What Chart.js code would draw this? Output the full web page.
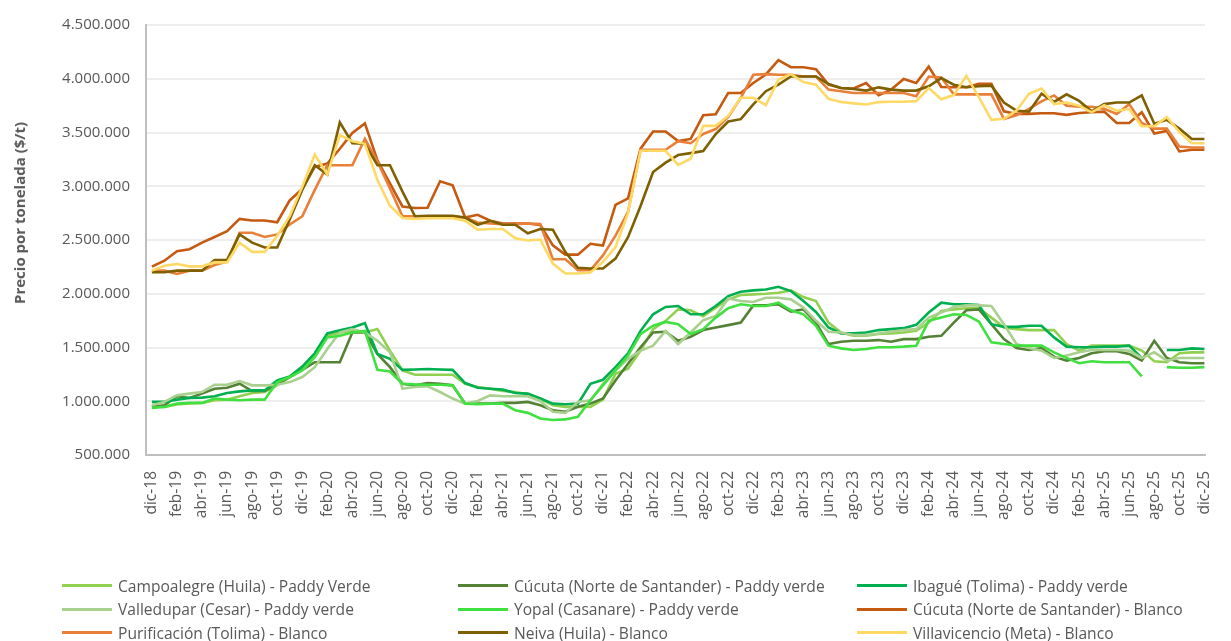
<!DOCTYPE html>
<html>
<head>
<meta charset="utf-8">
<script src="https://cdn.jsdelivr.net/npm/chart.js@4.4.1/dist/chart.umd.min.js"></script>
<style>
  html, body { margin: 0; padding: 0; background: #fff; }
  #wrap { position: relative; width: 1231px; height: 641px; overflow: hidden; font-family: "Open Sans", sans-serif; }
  #chart { position: absolute; left: 0; top: 0; }
  #yTitle {
    position: absolute; left: 19px; top: 213px;
    transform: translate(-50%, -50%) rotate(-90deg);
    font-weight: bold; font-size: 15px; color: #595959; white-space: nowrap;
  }
  #legend {
    position: absolute; left: 62px; top: 574px;
    display: grid; grid-template-columns: 396px 399px 360px; grid-auto-rows: 23.5px;
    font-size: 15.6px; color: #595959;
  }
  .item { display: flex; align-items: center; white-space: nowrap; }
  .swatch { width: 50px; height: 3px; margin-right: 6px; }
</style>
</head>
<body>
<div id="wrap">
  <canvas id="chart" width="1231" height="641"></canvas>
  <div id="yTitle">Precio por tonelada ($/t)</div>
  <div id="legend"></div>
</div>
<script>
// meses dic-18 .. dic-25
const abrev = ["ene", "feb", "mar", "abr", "may", "jun", "jul", "ago", "sep", "oct", "nov", "dic"];
const months = ["dic-18"];
for (let y = 19; y <= 25; y++) {
  abrev.forEach((m) => months.push(m + "-" + y));
}

const seriesNames = [
  "Campoalegre (Huila) - Paddy Verde",
  "Cúcuta (Norte de Santander) - Paddy verde",
  "Ibagué (Tolima) - Paddy verde",
  "Valledupar (Cesar) - Paddy verde",
  "Yopal (Casanare) - Paddy verde",
  "Cúcuta (Norte de Santander) - Blanco",
  "Purificación (Tolima) - Blanco",
  "Neiva (Huila) - Blanco",
  "Villavicencio (Meta) - Blanco"
];

const seriesColors = ["#92D050", "#548235", "#00B050", "#A9D08E", "#40E040", "#C55A11", "#E8803A", "#7F6000", "#FFD966"];

// miles de $/t
const campoalegreVerde = [963, 948, 970, 979, 985, 1009, 1015, 1046, 1077, 1086, 1148, 1225, 1311, 1440, 1609, 1640, 1655, 1640, 1671, 1471, 1286, 1246, 1246, 1246, 1246, 1163, 1132, 1117, 1095, 1086, 1065, 1025, 963, 948, 948, 948, 1015, 1255, 1302, 1471, 1671, 1748, 1855, 1846, 1790, 1871, 1948, 1988, 1994, 2000, 2009, 2031, 1969, 1932, 1732, 1640, 1609, 1609, 1625, 1631, 1640, 1655, 1732, 1840, 1855, 1865, 1865, 1778, 1686, 1671, 1662, 1662, 1662, 1532, 1471, 1517, 1517, 1517, 1517, 1471, 1372, 1363, 1446, 1455, 1455];

const cucutaVerde = [948, 963, 1046, 1031, 1071, 1117, 1126, 1163, 1095, 1095, 1163, 1225, 1292, 1363, 1363, 1363, 1640, 1640, 1440, 1317, 1163, 1148, 1169, 1163, 1148, 978, 978, 978, 985, 985, 994, 963, 917, 902, 948, 978, 1025, 1194, 1348, 1502, 1640, 1646, 1563, 1600, 1662, 1686, 1708, 1732, 1892, 1892, 1902, 1834, 1855, 1732, 1532, 1554, 1563, 1563, 1569, 1554, 1578, 1578, 1600, 1609, 1732, 1846, 1855, 1717, 1578, 1495, 1477, 1495, 1415, 1378, 1403, 1446, 1465, 1465, 1440, 1378, 1563, 1403, 1363, 1354, 1354];

const ibagueVerde = [994, 994, 1015, 1031, 1034, 1046, 1077, 1092, 1101, 1101, 1194, 1231, 1323, 1446, 1631, 1661, 1686, 1726, 1440, 1394, 1292, 1295, 1300, 1295, 1292, 1169, 1126, 1117, 1108, 1077, 1071, 1025, 978, 972, 978, 1163, 1200, 1317, 1446, 1655, 1809, 1877, 1886, 1809, 1809, 1886, 1978, 2018, 2031, 2040, 2065, 2025, 1932, 1831, 1686, 1631, 1631, 1640, 1662, 1671, 1680, 1711, 1825, 1917, 1902, 1902, 1895, 1717, 1692, 1692, 1702, 1702, 1594, 1508, 1502, 1502, 1508, 1508, 1517, 1403, null, 1477, 1477, 1492, 1486];

const valleduparVerde = [963, 994, 1055, 1071, 1086, 1154, 1154, 1188, 1148, 1148, 1154, 1178, 1225, 1317, 1486, 1640, 1671, 1640, 1563, 1455, 1117, 1132, 1140, 1086, 1025, 978, 1003, 1055, 1046, 1046, 1046, 1003, 902, 892, 994, 1009, 1163, 1286, 1394, 1471, 1517, 1655, 1532, 1640, 1754, 1794, 1957, 1932, 1923, 1963, 1963, 1948, 1871, 1748, 1646, 1640, 1615, 1615, 1631, 1646, 1662, 1671, 1778, 1825, 1877, 1892, 1892, 1886, 1717, 1532, 1495, 1471, 1403, 1425, 1455, 1477, 1477, 1477, 1471, 1403, 1455, 1378, 1403, 1403, 1403];

const yopalVerde = [938, 948, 978, 985, 985, 1025, 1015, 1009, 1015, 1015, 1178, 1225, 1286, 1409, 1594, 1609, 1640, 1655, 1292, 1277, 1163, 1157, 1154, 1154, 1148, 978, 972, 978, 978, 917, 892, 840, 825, 831, 855, 1009, 1148, 1286, 1425, 1625, 1702, 1738, 1717, 1625, 1671, 1778, 1865, 1902, 1886, 1886, 1917, 1846, 1809, 1702, 1517, 1492, 1477, 1486, 1502, 1502, 1508, 1517, 1748, 1778, 1809, 1803, 1742, 1548, 1532, 1517, 1517, 1517, 1455, 1403, 1354, 1372, 1363, 1363, 1363, 1231, null, 1317, 1311, 1311, 1317];

const cucutaBlanco = [2252, 2307, 2396, 2414, 2475, 2528, 2583, 2696, 2681, 2681, 2665, 2868, 2975, 3180, 3211, 3349, 3496, 3585, 3241, 3027, 2812, 2797, 2800, 3046, 3009, 2709, 2734, 2679, 2654, 2654, 2654, 2640, 2450, 2364, 2364, 2465, 2449, 2826, 2887, 3350, 3510, 3510, 3420, 3440, 3660, 3670, 3868, 3868, 3960, 4040, 4174, 4107, 4107, 4089, 3945, 3914, 3910, 3960, 3847, 3899, 3997, 3960, 4113, 3923, 3921, 3921, 3952, 3952, 3697, 3673, 3673, 3679, 3679, 3664, 3682, 3688, 3694, 3588, 3588, 3688, 3491, 3515, 3324, 3340, 3340];

const purificacionBlanco = [2215, 2215, 2184, 2215, 2215, 2267, 2298, 2567, 2567, 2528, 2552, 2644, 2721, 2966, 3196, 3196, 3196, 3441, 3230, 2980, 2721, 2721, 2721, 2709, 2709, 2709, 2663, 2654, 2648, 2648, 2654, 2648, 2321, 2321, 2220, 2220, 2357, 2541, 2761, 3340, 3340, 3340, 3420, 3400, 3486, 3532, 3645, 3823, 4037, 4043, 4037, 4037, 4021, 4021, 3899, 3884, 3868, 3868, 3868, 3868, 3868, 3838, 4021, 4012, 3855, 3855, 3855, 3855, 3627, 3660, 3720, 3790, 3845, 3750, 3740, 3740, 3720, 3673, 3764, 3588, 3536, 3536, 3370, 3361, 3361];

const neivaBlanco = [2200, 2200, 2215, 2215, 2215, 2313, 2313, 2552, 2475, 2430, 2430, 2690, 2966, 3196, 3110, 3594, 3400, 3395, 3196, 3196, 2950, 2721, 2725, 2725, 2725, 2709, 2642, 2679, 2642, 2642, 2562, 2602, 2596, 2388, 2241, 2235, 2235, 2327, 2526, 2816, 3132, 3220, 3290, 3308, 3327, 3486, 3602, 3624, 3761, 3884, 3945, 4021, 4021, 4021, 3951, 3914, 3905, 3890, 3920, 3899, 3890, 3890, 3930, 4006, 3945, 3921, 3930, 3936, 3779, 3703, 3694, 3861, 3785, 3855, 3794, 3697, 3764, 3779, 3779, 3845, 3582, 3618, 3536, 3439, 3439];

const villavicencioBlanco = [2215, 2261, 2276, 2255, 2255, 2292, 2292, 2475, 2390, 2390, 2537, 2721, 2996, 3294, 3110, 3477, 3419, 3395, 3058, 2819, 2705, 2696, 2703, 2703, 2703, 2679, 2596, 2602, 2602, 2517, 2495, 2504, 2281, 2189, 2189, 2198, 2296, 2434, 2750, 3330, 3330, 3330, 3199, 3256, 3562, 3562, 3654, 3823, 3823, 3755, 3991, 4043, 3969, 3945, 3813, 3783, 3771, 3761, 3783, 3786, 3786, 3792, 3914, 3809, 3848, 4027, 3830, 3618, 3627, 3703, 3861, 3909, 3764, 3779, 3749, 3688, 3755, 3703, 3718, 3558, 3558, 3643, 3506, 3400, 3400];

const allSeries = [campoalegreVerde, cucutaVerde, ibagueVerde, valleduparVerde, yopalVerde,
  cucutaBlanco, purificacionBlanco, neivaBlanco, villavicencioBlanco];

const datasets = allSeries.map((vals, k) => ({
  label: seriesNames[k],
  data: vals.map((v, i) => ({ x: i, y: v === null ? null : v * 1000 })),
  borderColor: seriesColors[k],
  backgroundColor: seriesColors[k],
  borderWidth: 2.6,
  pointRadius: 0,
  tension: 0,
  spanGaps: false,
  order: allSeries.length - k
}));

const fmt = (v) => String(v).replace(/\B(?=(\d{3})+(?!\d))/g, ".");

const chart = new Chart(document.getElementById("chart"), {
  type: "line",
  data: { datasets: datasets },
  options: {
    responsive: false,
    animation: false,
    layout: { padding: { top: 18, right: 6, left: 0, bottom: 0 } },
    plugins: { legend: { display: false }, tooltip: { enabled: false } },
    scales: {
      x: {
        type: "linear",
        min: -0.47,
        max: 84.05,
        afterBuildTicks: (axis) => {
          const t = [];
          for (let i = 0; i < months.length; i += 2) t.push({ value: i });
          axis.ticks = t;
        },
        afterFit: (s) => { s.height = 186; },
        grid: { display: false },
        border: { display: true, color: "#BFBFBF", width: 2 },
        ticks: {
          autoSkip: false,
          maxRotation: 90,
          minRotation: 90,
          padding: 8,
          color: "#595959",
          font: { family: "Open Sans", size: 15.5 },
          callback: (v) => months[v]
        }
      },
      y: {
        min: 500000,
        max: 4500000,
        afterFit: (s) => { s.width = 146; },
        grid: { color: "#EEEEEE", lineWidth: 2, drawTicks: false },
        border: { display: true, color: "#BFBFBF", width: 2 },
        ticks: {
          stepSize: 500000,
          padding: 16,
          color: "#595959",
          font: { family: "Open Sans", size: 15 },
          callback: (v) => fmt(v)
        }
      }
    }
  }
});

// leyenda en HTML, 3 columnas
const legendBox = document.getElementById("legend");
chart.data.datasets.forEach((ds) => {
  const item = document.createElement("div");
  item.className = "item";
  const sw = document.createElement("span");
  sw.className = "swatch";
  sw.style.background = ds.borderColor;
  const txt = document.createElement("span");
  txt.textContent = ds.label;
  item.appendChild(sw);
  item.appendChild(txt);
  legendBox.appendChild(item);
});
</script>
</body>
</html>
